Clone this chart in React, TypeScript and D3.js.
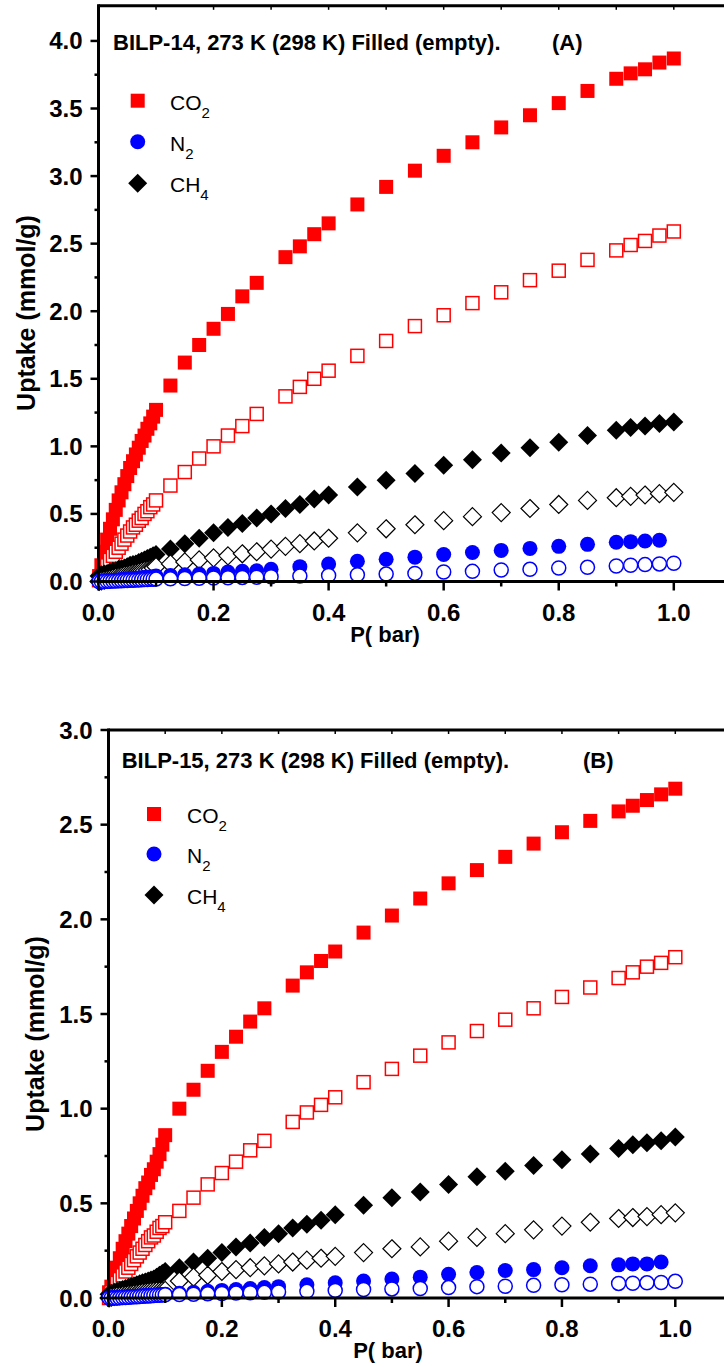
import React from "react";
import * as d3 from "d3";

const FONT = "'Liberation Sans', Arial, Helvetica, sans-serif";

// Pressure grids (bar)
const P_DENSE = [0.001, 0.005, 0.01, 0.015, 0.02, 0.025, 0.03, 0.035, 0.04, 0.045, 0.05, 0.055, 0.06, 0.065, 0.07, 0.075, 0.08, 0.085, 0.09, 0.095, 0.1];
const P_CO2 = [0.125, 0.15, 0.175, 0.2, 0.225, 0.25, 0.275, 0.325, 0.35, 0.375, 0.4, 0.45, 0.5, 0.55, 0.6, 0.65, 0.7, 0.75, 0.8, 0.85, 0.9, 0.925, 0.95, 0.975, 1.0];
const P_CH4 = [0.125, 0.15, 0.175, 0.2, 0.225, 0.25, 0.275, 0.3, 0.325, 0.35, 0.375, 0.4, 0.45, 0.5, 0.55, 0.6, 0.65, 0.7, 0.75, 0.8, 0.85, 0.9, 0.925, 0.95, 0.975, 1.0];
const P_N2 = [0.125, 0.15, 0.175, 0.2, 0.225, 0.25, 0.275, 0.3, 0.35, 0.4, 0.45, 0.5, 0.55, 0.6, 0.65, 0.7, 0.75, 0.8, 0.85, 0.9, 0.925, 0.95, 0.975, 1.0];

// Panel A (BILP-14)
const A_CO2_FILLED = [0.04, 0.12, 0.22, 0.31, 0.39, 0.46, 0.53, 0.6, 0.66, 0.72, 0.78, 0.84, 0.89, 0.94, 0.99, 1.04, 1.08, 1.13, 1.17, 1.22, 1.27,
  1.45, 1.62, 1.75, 1.87, 1.98, 2.11, 2.21, 2.4, 2.48, 2.57, 2.65, 2.79, 2.92, 3.04, 3.15, 3.25, 3.36, 3.45, 3.54, 3.63, 3.72, 3.76, 3.79, 3.84, 3.87];
const A_CO2_OPEN = [0.01, 0.04, 0.08, 0.12, 0.16, 0.19, 0.22, 0.25, 0.28, 0.31, 0.34, 0.37, 0.4, 0.42, 0.45, 0.47, 0.5, 0.52, 0.55, 0.57, 0.6,
  0.71, 0.81, 0.91, 1.0, 1.08, 1.15, 1.24, 1.37, 1.44, 1.5, 1.56, 1.67, 1.78, 1.89, 1.97, 2.06, 2.14, 2.23, 2.3, 2.38, 2.45, 2.49, 2.52, 2.56, 2.59];
const A_CH4_FILLED = [0.04, 0.05, 0.055, 0.06, 0.07, 0.075, 0.08, 0.09, 0.095, 0.1, 0.11, 0.12, 0.125, 0.13, 0.14, 0.15, 0.16, 0.17, 0.18, 0.19, 0.2,
  0.24, 0.28, 0.32, 0.36, 0.4, 0.43, 0.47, 0.5, 0.54, 0.57, 0.61, 0.64, 0.7, 0.75, 0.8, 0.86, 0.9, 0.95, 0.99, 1.03, 1.08, 1.12, 1.14, 1.15, 1.17, 1.18];
const A_CH4_OPEN = [0.0, 0.005, 0.01, 0.015, 0.02, 0.025, 0.03, 0.035, 0.04, 0.045, 0.05, 0.055, 0.06, 0.065, 0.07, 0.075, 0.08, 0.085, 0.09, 0.1, 0.11,
  0.13, 0.145, 0.16, 0.175, 0.19, 0.205, 0.22, 0.24, 0.26, 0.28, 0.3, 0.32, 0.36, 0.39, 0.42, 0.45, 0.48, 0.51, 0.54, 0.57, 0.6, 0.62, 0.63, 0.64, 0.65, 0.66];
const A_N2_FILLED = [0, 0, 0.002, 0.004, 0.006, 0.008, 0.01, 0.012, 0.014, 0.016, 0.018, 0.02, 0.022, 0.024, 0.026, 0.028, 0.03, 0.032, 0.034, 0.036, 0.04,
  0.045, 0.05, 0.055, 0.06, 0.07, 0.075, 0.08, 0.09, 0.11, 0.13, 0.15, 0.165, 0.18, 0.2, 0.215, 0.23, 0.245, 0.26, 0.275, 0.29, 0.295, 0.3, 0.305];
const A_N2_OPEN = [0, 0, 0, 0.001, 0.002, 0.003, 0.004, 0.005, 0.006, 0.007, 0.008, 0.009, 0.01, 0.011, 0.012, 0.013, 0.014, 0.015, 0.016, 0.017, 0.018,
  0.02, 0.022, 0.024, 0.026, 0.028, 0.03, 0.032, 0.035, 0.04, 0.045, 0.05, 0.055, 0.06, 0.07, 0.075, 0.085, 0.09, 0.1, 0.105, 0.115, 0.12, 0.125, 0.13, 0.135];

// Panel B (BILP-15)
const B_CO2_FILLED = [0.03, 0.06, 0.11, 0.16, 0.21, 0.26, 0.3, 0.34, 0.38, 0.42, 0.46, 0.5, 0.54, 0.58, 0.61, 0.65, 0.68, 0.72, 0.76, 0.81, 0.86,
  1.0, 1.1, 1.2, 1.3, 1.38, 1.46, 1.53, 1.65, 1.72, 1.78, 1.83, 1.93, 2.02, 2.11, 2.19, 2.26, 2.33, 2.4, 2.46, 2.52, 2.57, 2.6, 2.63, 2.66, 2.69];
const B_CO2_OPEN = [0.0, 0.03, 0.05, 0.08, 0.1, 0.12, 0.14, 0.16, 0.18, 0.2, 0.22, 0.24, 0.26, 0.28, 0.3, 0.32, 0.33, 0.35, 0.37, 0.38, 0.4,
  0.46, 0.53, 0.6, 0.66, 0.72, 0.78, 0.83, 0.93, 0.98, 1.02, 1.06, 1.14, 1.21, 1.28, 1.35, 1.41, 1.47, 1.53, 1.59, 1.64, 1.69, 1.72, 1.75, 1.77, 1.8];
const B_CH4_FILLED = [0.02, 0.025, 0.03, 0.035, 0.04, 0.045, 0.05, 0.055, 0.06, 0.065, 0.07, 0.075, 0.08, 0.085, 0.09, 0.095, 0.1, 0.11, 0.12, 0.13, 0.14,
  0.16, 0.19, 0.21, 0.24, 0.27, 0.29, 0.32, 0.34, 0.37, 0.39, 0.41, 0.44, 0.49, 0.53, 0.56, 0.6, 0.64, 0.67, 0.7, 0.73, 0.76, 0.79, 0.81, 0.82, 0.83, 0.85];
const B_CH4_OPEN = [0.0, 0.005, 0.008, 0.01, 0.012, 0.014, 0.016, 0.018, 0.02, 0.022, 0.024, 0.026, 0.028, 0.03, 0.032, 0.034, 0.035, 0.036, 0.037, 0.038, 0.04,
  0.09, 0.11, 0.12, 0.14, 0.15, 0.16, 0.17, 0.18, 0.19, 0.2, 0.21, 0.22, 0.24, 0.26, 0.27, 0.3, 0.32, 0.34, 0.36, 0.38, 0.4, 0.42, 0.425, 0.43, 0.44, 0.45];
const B_N2_FILLED = [0, 0, 0.001, 0.002, 0.003, 0.004, 0.005, 0.006, 0.007, 0.008, 0.009, 0.01, 0.011, 0.012, 0.013, 0.014, 0.015, 0.016, 0.017, 0.018, 0.02,
  0.025, 0.03, 0.035, 0.04, 0.045, 0.05, 0.055, 0.06, 0.07, 0.08, 0.09, 0.1, 0.11, 0.125, 0.135, 0.145, 0.15, 0.16, 0.17, 0.175, 0.18, 0.18, 0.19];
const B_N2_OPEN = [0, 0, 0, 0, 0.001, 0.002, 0.003, 0.004, 0.005, 0.006, 0.007, 0.008, 0.009, 0.01, 0.011, 0.012, 0.013, 0.014, 0.015, 0.016, 0.017,
  0.018, 0.02, 0.022, 0.024, 0.026, 0.028, 0.03, 0.032, 0.035, 0.04, 0.045, 0.048, 0.05, 0.055, 0.06, 0.062, 0.067, 0.07, 0.073, 0.077, 0.078, 0.08, 0.082, 0.088];

const X_TICKS = [0, 0.2, 0.4, 0.6, 0.8, 1.0];
const X_MINOR = [0.1, 0.3, 0.5, 0.7, 0.9];
const X_TOP_TICKS = [0.1, 0.2, 0.3, 0.4, 0.5, 0.6, 0.7, 0.8, 0.9, 1.0];
const Y_TICKS_A = [0, 0.5, 1.0, 1.5, 2.0, 2.5, 3.0, 3.5, 4.0];
const Y_MINOR_A = [0.25, 0.75, 1.25, 1.75, 2.25, 2.75, 3.25, 3.75];
const Y_TICKS_B = [0, 0.5, 1.0, 1.5, 2.0, 2.5, 3.0];
const Y_MINOR_B = [0.25, 0.75, 1.25, 1.75, 2.25, 2.75];

const RED = "#ff0000";
const BLUE = "#0000ff";
const BLACK = "#000000";

type Shape = "square" | "circle" | "diamond";

function Marker({ shape, filled, color, x, y }: { shape: Shape; filled: boolean; color: string; x: number; y: number }) {
  if (shape === "square") {
    return filled
      ? <rect x={x - 7} y={y - 7} width={14} height={14} fill={color} />
      : <rect x={x - 6.5} y={y - 6.5} width={13} height={13} fill="#fff" stroke={color} strokeWidth={1.5} />;
  }
  if (shape === "circle") {
    return filled
      ? <circle cx={x} cy={y} r={7.5} fill={color} />
      : <circle cx={x} cy={y} r={7} fill="#fff" stroke={color} strokeWidth={1.5} />;
  }
  const h = filled ? 9.5 : 9;
  const d = `M${x},${y - h}L${x + h},${y}L${x},${y + h}L${x - h},${y}Z`;
  return filled ? <path d={d} fill={color} /> : <path d={d} fill="#fff" stroke={color} strokeWidth={1.2} />;
}

type Series = { xs: number[]; ys: number[]; shape: Shape; filled: boolean; color: string };

type PanelCfg = {
  x0: number; xUnit: number; yBottom: number; yTop: number; yMax: number;
  yTicks: number[]; yMinor: number[];
  title: string; titleX: number; titleY: number; tag: string; tagX: number;
  legX: number; legYs: number[]; legTextX: number;
  yLabelX: number; yLabelY: number; xLabelX: number;
  series: Series[];
};

function Panel({ cfg }: { cfg: PanelCfg }) {
  const x = d3.scaleLinear().domain([0, 1.1]).range([cfg.x0, cfg.x0 + 1.1 * cfg.xUnit]);
  const y = d3.scaleLinear().domain([0, cfg.yMax]).range([cfg.yBottom, cfg.yTop]);
  const ax = x(0);
  const ay = y(0);
  const top = y(cfg.yMax);
  const fmt = d3.format(".1f");
  const legendItems: { shape: Shape; color: string; main: string; sub: string }[] = [
    { shape: "square", color: RED, main: "CO", sub: "2" },
    { shape: "circle", color: BLUE, main: "N", sub: "2" },
    { shape: "diamond", color: BLACK, main: "CH", sub: "4" },
  ];
  return (
    <g fontFamily={FONT}>
      {/* data */}
      {cfg.series.map((s, si) => (
        <g key={si}>
          {s.ys.map((v, i) => (
            <Marker key={i} shape={s.shape} filled={s.filled} color={s.color} x={x(s.xs[i])} y={y(v)} />
          ))}
        </g>
      ))}
      {/* axes */}
      <line x1={ax} x2={730} y1={top} y2={top} stroke="#000" strokeWidth={3} />
      {X_TOP_TICKS.map((t) => (
        <line key={"tt" + t} x1={x(t)} x2={x(t)} y1={top} y2={top + 4} stroke="#000" strokeWidth={1.5} />
      ))}
      <line x1={ax} x2={ax} y1={top - 1.5} y2={ay + 1.5} stroke="#000" strokeWidth={3} />
      <line x1={ax - 1.5} x2={730} y1={ay} y2={ay} stroke="#000" strokeWidth={3} />
      {cfg.yTicks.map((t) => (
        <g key={"y" + t}>
          <line x1={ax - 8} x2={ax} y1={y(t)} y2={y(t)} stroke="#000" strokeWidth={2.5} />
          <text x={ax - 16} y={y(t) + 8.5} textAnchor="end" fontSize={24} fontWeight="bold">{fmt(t)}</text>
        </g>
      ))}
      {cfg.yMinor.map((t) => (
        <line key={"ym" + t} x1={ax - 4} x2={ax} y1={y(t)} y2={y(t)} stroke="#000" strokeWidth={2.5} />
      ))}
      {X_TICKS.map((t) => (
        <g key={"x" + t}>
          <line x1={x(t)} x2={x(t)} y1={ay} y2={ay + 9} stroke="#000" strokeWidth={2.5} />
          <text x={x(t)} y={ay + 39} textAnchor="middle" fontSize={24} fontWeight="bold">{fmt(t)}</text>
        </g>
      ))}
      {X_MINOR.map((t) => (
        <line key={"xm" + t} x1={x(t)} x2={x(t)} y1={ay} y2={ay + 5} stroke="#000" strokeWidth={2.5} />
      ))}
      <text x={cfg.xLabelX} y={ay + 60} textAnchor="middle" fontSize={22} fontWeight="bold">P( bar)</text>
      <text transform={`translate(${cfg.yLabelX},${cfg.yLabelY}) rotate(-90)`} textAnchor="middle" dominantBaseline="central" fontSize={25} fontWeight="bold">Uptake (mmol/g)</text>
      {/* title */}
      <text x={cfg.titleX} y={cfg.titleY} fontSize={22} fontWeight="bold">{cfg.title}</text>
      <text x={cfg.tagX} y={cfg.titleY} fontSize={22} fontWeight="bold">{cfg.tag}</text>
      {/* legend */}
      {legendItems.map((it, i) => (
        <g key={"l" + i}>
          <Marker shape={it.shape} filled={true} color={it.color} x={cfg.legX} y={cfg.legYs[i]} />
          <text x={cfg.legTextX} y={cfg.legYs[i] + 9} fontSize={21}>
            {it.main}
            <tspan fontSize={15} dy={8}>{it.sub}</tspan>
          </text>
        </g>
      ))}
    </g>
  );
}

function mk(pHigh: number[], ys: number[], shape: Shape, filled: boolean, color: string): Series {
  const xs = P_DENSE.concat(pHigh);
  return { xs, ys, shape, filled, color };
}

export default function App() {
  const panelA: PanelCfg = {
    x0: 98.5, xUnit: 575.3, yBottom: 581.5, yTop: 5.8, yMax: 4.26,
    yTicks: Y_TICKS_A, yMinor: Y_MINOR_A,
    title: "BILP-14, 273 K (298 K) Filled (empty).", titleX: 113, titleY: 50, tag: "(A)", tagX: 552,
    legX: 137.7, legYs: [100.7, 141.7, 183.3], legTextX: 170,
    yLabelX: 26, yLabelY: 313, xLabelX: 385,
    series: [
      mk(P_CO2, A_CO2_FILLED, "square", true, RED),
      mk(P_CO2, A_CO2_OPEN, "square", false, RED),
      mk(P_CH4, A_CH4_FILLED, "diamond", true, BLACK),
      mk(P_CH4, A_CH4_OPEN, "diamond", false, BLACK),
      mk(P_N2, A_N2_FILLED, "circle", true, BLUE),
      mk(P_N2, A_N2_OPEN, "circle", false, BLUE),
    ],
  };
  const panelB: PanelCfg = {
    x0: 108.5, xUnit: 566.8, yBottom: 1298, yTop: 730, yMax: 3.0,
    yTicks: Y_TICKS_B, yMinor: Y_MINOR_B,
    title: "BILP-15, 273 K (298 K) Filled (empty).", titleX: 121.7, titleY: 768, tag: "(B)", tagX: 583,
    legX: 154, legYs: [814, 854, 895], legTextX: 187,
    yLabelX: 35, yLabelY: 1034, xLabelX: 388,
    series: [
      mk(P_CO2, B_CO2_FILLED, "square", true, RED),
      mk(P_CO2, B_CO2_OPEN, "square", false, RED),
      mk(P_CH4, B_CH4_FILLED, "diamond", true, BLACK),
      mk(P_CH4, B_CH4_OPEN, "diamond", false, BLACK),
      mk(P_N2, B_N2_FILLED, "circle", true, BLUE),
      mk(P_N2, B_N2_OPEN, "circle", false, BLUE),
    ],
  };
  return (
    <div style={{ position: "absolute", left: 0, top: 0 }}>
      <svg width={724} height={1367} viewBox="0 0 724 1367" style={{ display: "block", background: "#fff" }}>
        <rect width={724} height={1367} fill="#fff" />
        <Panel cfg={panelA} />
        <Panel cfg={panelB} />
      </svg>
    </div>
  );
}
